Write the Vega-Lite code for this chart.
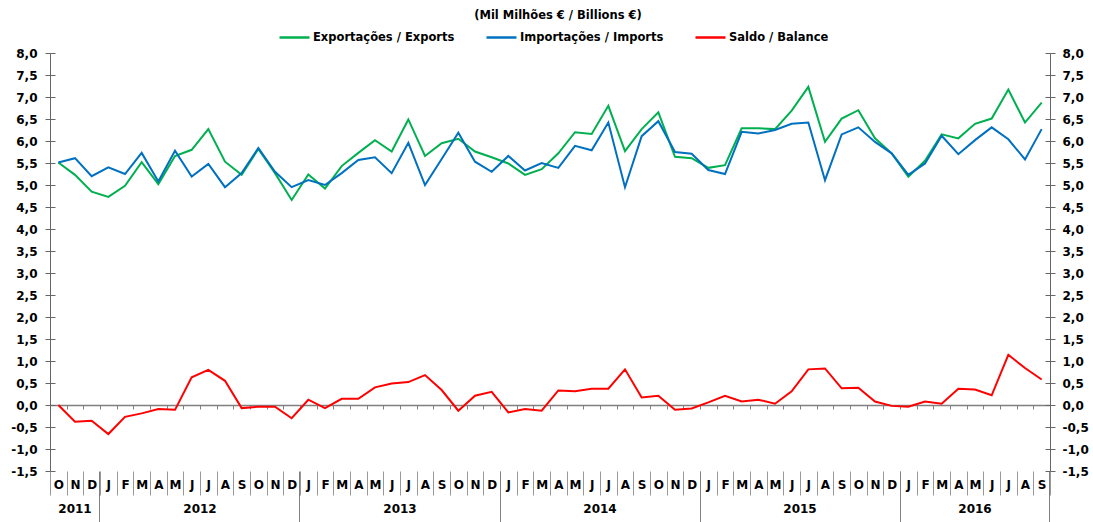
{
  "$schema": "https://vega.github.io/schema/vega-lite/v6.json",
  "width": 1000,
  "height": 418,
  "autosize": {"type": "none"},
  "padding": {"left": 50, "top": 53, "right": 43, "bottom": 51},
  "background": "white",
  "title": {"text": "(Mil Milhões € / Billions €)", "font": "DejaVu Sans", "fontSize": 11.5, "fontWeight": "bold", "color": "#000000", "anchor": "middle", "dx": 8, "offset": 0},
  "datasets": {
    "d": [
      {"m": "2011-10", "e": 5.51, "i": 5.51, "b": 0.00},
      {"m": "2011-11", "e": 5.23, "i": 5.61, "b": -0.38},
      {"m": "2011-12", "e": 4.85, "i": 5.20, "b": -0.36},
      {"m": "2012-01", "e": 4.73, "i": 5.40, "b": -0.66},
      {"m": "2012-02", "e": 4.98, "i": 5.25, "b": -0.27},
      {"m": "2012-03", "e": 5.52, "i": 5.73, "b": -0.19},
      {"m": "2012-04", "e": 5.02, "i": 5.08, "b": -0.09},
      {"m": "2012-05", "e": 5.66, "i": 5.78, "b": -0.11},
      {"m": "2012-06", "e": 5.80, "i": 5.19, "b": 0.63},
      {"m": "2012-07", "e": 6.27, "i": 5.48, "b": 0.80},
      {"m": "2012-08", "e": 5.53, "i": 4.95, "b": 0.55},
      {"m": "2012-09", "e": 5.23, "i": 5.27, "b": -0.07},
      {"m": "2012-10", "e": 5.82, "i": 5.84, "b": -0.04},
      {"m": "2012-11", "e": 5.27, "i": 5.30, "b": -0.04},
      {"m": "2012-12", "e": 4.66, "i": 4.95, "b": -0.30},
      {"m": "2013-01", "e": 5.24, "i": 5.11, "b": 0.12},
      {"m": "2013-02", "e": 4.92, "i": 5.00, "b": -0.07},
      {"m": "2013-03", "e": 5.43, "i": 5.27, "b": 0.14},
      {"m": "2013-04", "e": 5.73, "i": 5.57, "b": 0.14},
      {"m": "2013-05", "e": 6.02, "i": 5.63, "b": 0.40},
      {"m": "2013-06", "e": 5.76, "i": 5.27, "b": 0.49},
      {"m": "2013-07", "e": 6.49, "i": 5.96, "b": 0.52},
      {"m": "2013-08", "e": 5.66, "i": 5.00, "b": 0.68},
      {"m": "2013-09", "e": 5.95, "i": 5.59, "b": 0.34},
      {"m": "2013-10", "e": 6.05, "i": 6.19, "b": -0.13},
      {"m": "2013-11", "e": 5.76, "i": 5.53, "b": 0.21},
      {"m": "2013-12", "e": 5.63, "i": 5.30, "b": 0.30},
      {"m": "2014-01", "e": 5.49, "i": 5.66, "b": -0.17},
      {"m": "2014-02", "e": 5.23, "i": 5.33, "b": -0.09},
      {"m": "2014-03", "e": 5.36, "i": 5.50, "b": -0.13},
      {"m": "2014-04", "e": 5.72, "i": 5.39, "b": 0.33},
      {"m": "2014-05", "e": 6.20, "i": 5.89, "b": 0.31},
      {"m": "2014-06", "e": 6.16, "i": 5.79, "b": 0.37},
      {"m": "2014-07", "e": 6.80, "i": 6.42, "b": 0.37},
      {"m": "2014-08", "e": 5.77, "i": 4.95, "b": 0.81},
      {"m": "2014-09", "e": 6.27, "i": 6.11, "b": 0.17},
      {"m": "2014-10", "e": 6.65, "i": 6.45, "b": 0.21},
      {"m": "2014-11", "e": 5.64, "i": 5.75, "b": -0.11},
      {"m": "2014-12", "e": 5.61, "i": 5.71, "b": -0.08},
      {"m": "2015-01", "e": 5.39, "i": 5.34, "b": 0.06},
      {"m": "2015-02", "e": 5.45, "i": 5.25, "b": 0.21},
      {"m": "2015-03", "e": 6.29, "i": 6.21, "b": 0.08},
      {"m": "2015-04", "e": 6.29, "i": 6.17, "b": 0.12},
      {"m": "2015-05", "e": 6.27, "i": 6.25, "b": 0.03},
      {"m": "2015-06", "e": 6.69, "i": 6.39, "b": 0.31},
      {"m": "2015-07", "e": 7.23, "i": 6.42, "b": 0.81},
      {"m": "2015-08", "e": 5.98, "i": 5.11, "b": 0.83},
      {"m": "2015-09", "e": 6.51, "i": 6.15, "b": 0.38},
      {"m": "2015-10", "e": 6.70, "i": 6.31, "b": 0.39},
      {"m": "2015-11", "e": 6.06, "i": 5.98, "b": 0.08},
      {"m": "2015-12", "e": 5.72, "i": 5.72, "b": -0.02},
      {"m": "2016-01", "e": 5.19, "i": 5.23, "b": -0.04},
      {"m": "2016-02", "e": 5.55, "i": 5.49, "b": 0.08},
      {"m": "2016-03", "e": 6.15, "i": 6.12, "b": 0.03},
      {"m": "2016-04", "e": 6.06, "i": 5.70, "b": 0.37},
      {"m": "2016-05", "e": 6.39, "i": 6.02, "b": 0.35},
      {"m": "2016-06", "e": 6.51, "i": 6.31, "b": 0.22},
      {"m": "2016-07", "e": 7.17, "i": 6.04, "b": 1.14},
      {"m": "2016-08", "e": 6.42, "i": 5.58, "b": 0.84},
      {"m": "2016-09", "e": 6.87, "i": 6.27, "b": 0.58}
    ]
  },
  "data": {"name": "d"},
  "layer": [
    {
      "mark": {"type": "line", "strokeWidth": 2},
      "transform": [{"fold": ["e", "i", "b"], "as": ["k", "v"]}],
      "encoding": {
        "x": {"field": "m", "type": "ordinal", "scale": {"type": "band", "paddingInner": 0, "paddingOuter": 0},
          "axis": {"orient": "bottom", "title": null, "domain": false, "tickBand": "extent", "tickSize": 24, "tickColor": "#999999", "labelAngle": 0, "labelPadding": -16, "labelOverlap": false,
            "labelExpr": "['J','F','M','A','M','J','J','A','S','O','N','D'][toNumber(substring(datum.value,5,7))-1]"}},
        "y": {"field": "v", "type": "quantitative", "scale": {"domain": [-1.5, 8], "nice": false, "zero": false},
          "axis": {"orient": "left", "title": null, "values": [-1.5, -1, -0.5, 0, 0.5, 1, 1.5, 2, 2.5, 3, 3.5, 4, 4.5, 5, 5.5, 6, 6.5, 7, 7.5, 8], "format": ".1f", "tickSize": 5, "labelPadding": 8}},
        "color": {"field": "k", "type": "nominal",
          "scale": {"domain": ["e", "i", "b"], "range": ["#00B050", "#0070C0", "#FF0000"]},
          "legend": {"orient": "none", "direction": "horizontal", "legendX": 228, "legendY": -32, "title": null,
            "symbolType": "stroke", "symbolSize": 900, "symbolStrokeWidth": 2.5, "labelOffset": 2, "columnPadding": 26,
            "labelFont": "DejaVu Sans", "labelFontSize": 11.5, "labelFontWeight": "bold", "labelColor": "#000000",
            "labelExpr": "datum.value == 'e' ? 'Exportações / Exports' : datum.value == 'i' ? 'Importações / Imports' : 'Saldo / Balance'"}}
      }
    },
    {
      "mark": {"type": "line", "opacity": 0},
      "encoding": {
        "x": {"field": "m", "type": "ordinal", "scale": {"type": "band", "paddingInner": 0, "paddingOuter": 0},
          "axis": {"orient": "bottom", "title": null, "offset": -66, "labels": false, "tickBand": "extent", "tickSize": 4, "tickColor": "#808080", "domainColor": "#808080", "domainWidth": 1.5}},
        "y": {"field": "e", "type": "quantitative", "scale": {"domain": [-1.5, 8], "nice": false, "zero": false},
          "axis": {"orient": "left", "title": null, "labels": false, "domain": false, "tickSize": -5, "values": [-1.5, -1, -0.5, 0, 0.5, 1, 1.5, 2, 2.5, 3, 3.5, 4, 4.5, 5, 5.5, 6, 6.5, 7, 7.5, 8]}}
      }
    },
    {
      "mark": {"type": "line", "opacity": 0},
      "encoding": {
        "x": {"field": "m", "type": "ordinal", "scale": {"type": "band", "paddingInner": 0, "paddingOuter": 0},
          "axis": {"orient": "bottom", "title": null, "labels": false, "domain": false, "values": ["2011-10", "2012-01", "2013-01", "2014-01", "2015-01", "2016-01"], "bandPosition": 0, "tickSize": 51, "tickColor": "#808080"}},
        "y": {"field": "e", "type": "quantitative", "scale": {"domain": [-1.5, 8], "nice": false, "zero": false},
          "axis": {"orient": "right", "title": null, "values": [-1.5, -1, -0.5, 0, 0.5, 1, 1.5, 2, 2.5, 3, 3.5, 4, 4.5, 5, 5.5, 6, 6.5, 7, 7.5, 8], "format": ".1f", "tickSize": 5, "labelPadding": 7}}
      }
    },
    {
      "mark": {"type": "line", "opacity": 0},
      "encoding": {
        "x": {"field": "m", "type": "ordinal", "scale": {"type": "band", "paddingInner": 0, "paddingOuter": 0},
          "axis": {"orient": "bottom", "title": null, "ticks": false, "domain": false, "values": ["2012-06", "2013-06", "2014-06", "2015-06"], "labelOffset": 8.33, "labelPadding": 32, "labelAngle": 0, "labelOverlap": false, "labelExpr": "substring(datum.value,0,4)"}},
        "y": {"field": "e", "type": "quantitative", "scale": {"domain": [-1.5, 8], "nice": false, "zero": false},
          "axis": {"orient": "right", "title": null, "labels": false, "domain": false, "tickSize": -5, "values": [-1.5, -1, -0.5, 0, 0.5, 1, 1.5, 2, 2.5, 3, 3.5, 4, 4.5, 5, 5.5, 6, 6.5, 7, 7.5, 8]}}
      }
    },
    {
      "mark": {"type": "line", "opacity": 0},
      "encoding": {
        "x": {"field": "m", "type": "ordinal", "scale": {"type": "band", "paddingInner": 0, "paddingOuter": 0},
          "axis": {"orient": "bottom", "title": null, "ticks": false, "domain": false, "values": ["2011-11", "2016-05"], "labelPadding": 32, "labelAngle": 0, "labelOverlap": false, "labelExpr": "substring(datum.value,0,4)"}},
        "y": {"field": "e", "type": "quantitative", "scale": {"domain": [-1.5, 8], "nice": false, "zero": false}, "axis": null}
      }
    },
    {
      "mark": {"type": "line", "opacity": 0},
      "encoding": {
        "x": {"field": "m", "type": "ordinal", "scale": {"type": "band", "paddingInner": 0, "paddingOuter": 0},
          "axis": {"orient": "bottom", "title": null, "labels": false, "domain": false, "values": ["2016-09"], "bandPosition": 1, "tickSize": 51, "tickColor": "#808080"}},
        "y": {"field": "e", "type": "quantitative", "scale": {"domain": [-1.5, 8], "nice": false, "zero": false}, "axis": null}
      }
    }
  ],
  "resolve": {"axis": {"x": "independent", "y": "independent"}},
  "config": {
    "view": {"stroke": null},
    "locale": {"number": {"decimal": ",", "thousands": ".", "grouping": [3], "currency": ["", " €"], "minus": "-"}},
    "axis": {"grid": false, "labelFont": "DejaVu Sans", "labelFontSize": 12, "labelFontWeight": "bold", "labelColor": "#000000", "domainColor": "#666666", "tickColor": "#666666", "labelOverlap": false}
  }
}
